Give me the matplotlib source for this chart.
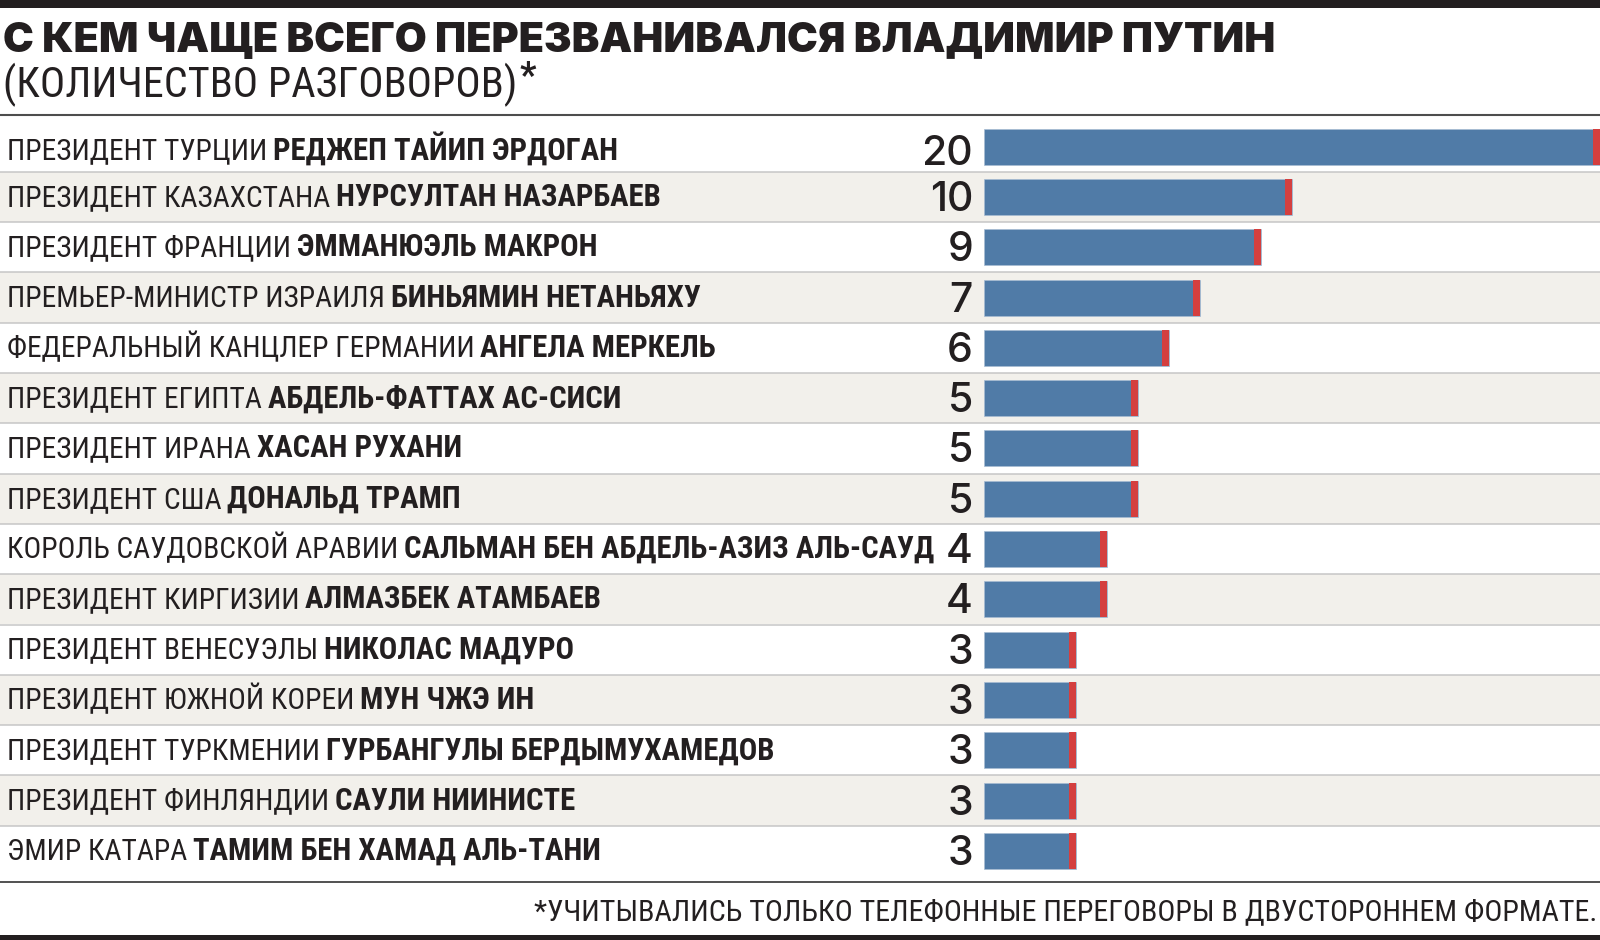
import matplotlib
matplotlib.use('Agg')
import matplotlib.pyplot as plt
from matplotlib import font_manager

# данные
roles = ['ПРЕЗИДЕНТ ТУРЦИИ', 'ПРЕЗИДЕНТ КАЗАХСТАНА', 'ПРЕЗИДЕНТ ФРАНЦИИ',
         'ПРЕМЬЕР-МИНИСТР ИЗРАИЛЯ', 'ФЕДЕРАЛЬНЫЙ КАНЦЛЕР ГЕРМАНИИ',
         'ПРЕЗИДЕНТ ЕГИПТА', 'ПРЕЗИДЕНТ ИРАНА', 'ПРЕЗИДЕНТ США',
         'КОРОЛЬ САУДОВСКОЙ АРАВИИ', 'ПРЕЗИДЕНТ КИРГИЗИИ', 'ПРЕЗИДЕНТ ВЕНЕСУЭЛЫ',
         'ПРЕЗИДЕНТ ЮЖНОЙ КОРЕИ', 'ПРЕЗИДЕНТ ТУРКМЕНИИ', 'ПРЕЗИДЕНТ ФИНЛЯНДИИ',
         'ЭМИР КАТАРА']
names = ['РЕДЖЕП ТАЙИП ЭРДОГАН', 'НУРСУЛТАН НАЗАРБАЕВ', 'ЭММАНЮЭЛЬ МАКРОН',
         'БИНЬЯМИН НЕТАНЬЯХУ', 'АНГЕЛА МЕРКЕЛЬ', 'АБДЕЛЬ-ФАТТАХ АС-СИСИ',
         'ХАСАН РУХАНИ', 'ДОНАЛЬД ТРАМП', 'САЛЬМАН БЕН АБДЕЛЬ-АЗИЗ АЛЬ-САУД',
         'АЛМАЗБЕК АТАМБАЕВ', 'НИКОЛАС МАДУРО', 'МУН ЧЖЭ ИН',
         'ГУРБАНГУЛЫ БЕРДЫМУХАМЕДОВ', 'САУЛИ НИИНИСТЕ', 'ТАМИМ БЕН ХАМАД АЛЬ-ТАНИ']
calls = [20, 10, 9, 7, 6, 5, 5, 5, 4, 4, 3, 3, 3, 3, 3]

title = 'С КЕМ ЧАЩЕ ВСЕГО ПЕРЕЗВАНИВАЛСЯ ВЛАДИМИР ПУТИН'
subtitle = '(КОЛИЧЕСТВО РАЗГОВОРОВ)'
footnote = '*УЧИТЫВАЛИСЬ ТОЛЬКО ТЕЛЕФОННЫЕ ПЕРЕГОВОРЫ В ДВУСТОРОННЕМ ФОРМАТЕ.'


def face(cands, weight):
    # статичный файл шрифта с ближайшей толщиной
    for c in cands:
        fs = [f for f in font_manager.fontManager.ttflist
              if f.name == c and '[' not in f.fname and f.style == 'normal']
        if fs:
            f = min(fs, key=lambda f: abs(f.weight - weight))
            if abs(f.weight - weight) <= 150:
                return font_manager.FontProperties(fname=f.fname)
    return font_manager.FontProperties(family='DejaVu Sans',
                                       weight='bold' if weight > 500 else 'normal')


cond = ['Roboto Condensed', 'PT Sans Narrow', 'Fira Sans Condensed',
        'Sofia Sans Condensed', 'Liberation Sans Narrow']
fp_reg = face(cond, 400)
fp_bold = face(cond, 700)
fp_head = face(['Montserrat', 'Inter', 'Noto Sans', 'Open Sans', 'Roboto'], 900)
fp_num = face(['Inter', 'Roboto', 'Noto Sans', 'Liberation Sans'], 500)

ink = '#231f20'
blue = '#507ba7'
red = '#d43f3f'
stripe = '#f2f0eb'

W, H = 1600, 940
fig = plt.figure(figsize=(16, 9.4), dpi=100)

# рамка в пикселях
deco = fig.add_axes([0, 0, 1, 1], zorder=0)
deco.set_xlim(0, W)
deco.set_ylim(H, 0)
deco.axis('off')
deco.axhspan(0, 7.5, color=ink, lw=0)
deco.axhspan(935, 940, color=ink, lw=0)
deco.axhline(115, color='#4d4d4d', lw=1.5)
deco.axhline(881.7, color='#333333', lw=1.2)

# строки
top, rh = 121.5, 50.3
n = len(calls)
y0 = (H - (top + n * rh)) / H
hh = n * rh / H

bg = fig.add_axes([0, y0, 1, hh], zorder=1)
bg.set_xlim(0, 1)
bg.set_ylim(n - 0.5, -0.5)
bg.axis('off')
for i in range(n):
    if i % 2 == 1:
        bg.axhspan(i - 0.5, i + 0.5, color=stripe, lw=0)
for i in range(n - 1):
    bg.axhline(i + 0.5, color='#c6c6c6', lw=1.1)

# бары
x_left = 984
ax = fig.add_axes([x_left / W, y0, (W - x_left) / W, hh], zorder=2)
ax.set_xlim(0, max(calls))
ax.set_ylim(n - 0.5, -0.5)
ax.axis('off')
ax.patch.set_alpha(0)
pos = list(range(n))
ax.barh(pos, calls, height=0.716, color=blue, edgecolor='#a7bcd3', linewidth=0.5)
cap = 7 / ((W - x_left) / max(calls))
ax.barh(pos, [cap] * n, left=[v - cap for v in calls], height=0.716,
        color=red, linewidth=0)

regs, bolds = [], []
lab_size = 18.5
reg_k = 0.96  # обычная часть подписи чуть мельче жирной
gap = 6
for i in range(n):
    dy = -4 if i == 0 else 0  # первая строка в оригинале чуть ниже
    r = ax.annotate(roles[i], xy=(0, i), xytext=(6.7 - x_left, -9 + dy),
                    textcoords='offset pixels', ha='left', va='baseline',
                    fontproperties=fp_reg, fontsize=lab_size * reg_k, color=ink,
                    annotation_clip=False)
    b = ax.annotate(names[i], xy=(1, 0), xycoords=r, xytext=(gap, 0),
                    textcoords='offset pixels', ha='left', va='bottom',
                    fontproperties=fp_bold, fontsize=lab_size, color=ink,
                    annotation_clip=False)
    regs.append(r)
    bolds.append(b)
    ax.annotate(str(calls[i]), xy=(0, i), xytext=(-11, -14 + dy),
                textcoords='offset pixels', ha='right', va='baseline',
                fontproperties=fp_num, fontsize=29.5, color=ink,
                annotation_clip=False)

t_title = fig.text(3.3 / W, 1 - 51.7 / H, title, ha='left', va='baseline',
                   fontproperties=fp_head, fontsize=28, color=ink)
t_sub = fig.text(2.7 / W, 1 - 96.7 / H, subtitle, ha='left', va='baseline',
                 fontproperties=fp_reg, fontsize=22, color=ink)
t_star = fig.text(519 / W, 1 - 87 / H, '*', ha='left', va='baseline',
                  fontproperties=fp_bold, fontsize=26, color=ink)
t_foot = fig.text(1597 / W, 1 - 920 / H, footnote, ha='right', va='baseline',
                  fontproperties=fp_reg, fontsize=18, color=ink)

# подгонка размеров шрифта по ширине
fig.canvas.draw()
rend = fig.canvas.get_renderer()


def fit(t, target):
    w = t.get_window_extent(rend).width
    t.set_fontsize(t.get_fontsize() * target / w)


fit(t_title, 1273)
fit(t_sub, 512)
fit(t_foot, 1063)
longest = max(range(n), key=lambda k: len(roles[k]) + len(names[k]))
x1 = bolds[longest].get_window_extent(rend).x1
k = (936 - 6.7 - gap) / (x1 - 6.7 - gap)
for r, b in zip(regs, bolds):
    r.set_fontsize(lab_size * reg_k * k)
    b.set_fontsize(lab_size * k)

fig.savefig('out.png', dpi=100, facecolor='white')
